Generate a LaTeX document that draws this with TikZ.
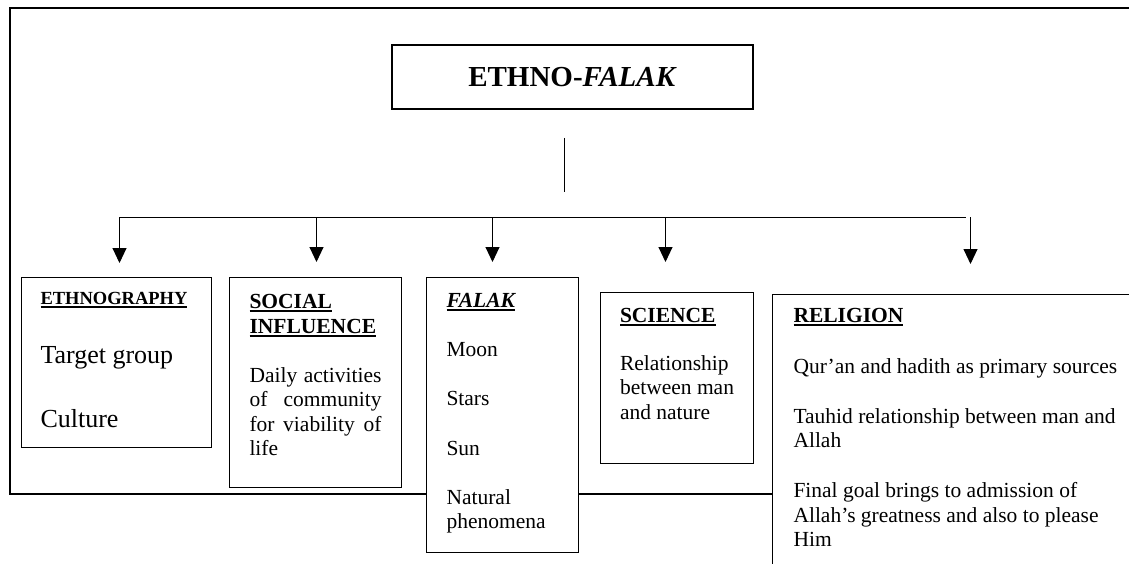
\documentclass[tikz,border=0pt]{standalone}
\usepackage{fontspec}
\setmainfont{Liberation Serif}
\usetikzlibrary{arrows.meta, positioning, calc}

\newcommand{\underhead}[1]{\setbox0\hbox{#1}\leavevmode\rlap{\vrule height -1.6pt depth 3.4pt width \wd0}\box0}
\newcommand{\headfont}{\fontsize{21.5}{25}\selectfont\bfseries}
\newcommand{\bodyfont}{\fontsize{21.5}{24.3}\selectfont}

\begin{document}
\begin{tikzpicture}[
    x=1pt, y=-1pt,
    frame/.style={line width=2.6pt},
    mainbox/.style={draw, line width=2.6pt, minimum width=361pt, minimum height=64pt, font=\fontsize{29}{32}\selectfont\bfseries},
    panel/.style={draw, line width=1pt, fill=white, anchor=north west, inner ysep=0pt, inner xsep=20pt},
    link/.style={line width=1pt},
    arrow/.style={line width=1pt, -{Triangle[width=14pt,length=15pt]}}
]
\useasboundingbox (0,0) rectangle (1129,564);
\clip (0,0) rectangle (1129,564);

% outer frame
\draw [frame] (10,8) rectangle (1160,494);

\node (ethnofalak) [mainbox] at (572.5,77) {ETHNO-\textit{FALAK}};

% the five panels
\node (ethno) [panel, inner xsep=19pt] at (21,277) {\parbox[t][170pt][t]{152pt}{\raggedright
    \vspace*{15pt}{\fontsize{18.5}{21}\selectfont\bfseries\underhead{ETHNOGRAPHY}\par}
    \vspace{31pt}{\fontsize{26}{28}\selectfont Target group\par}
    \vspace{36pt}{\fontsize{26}{28}\selectfont Culture\par}}};
\node (social) [panel, right=17pt of ethno.north east, anchor=north west] {\parbox[t][210pt][t]{132pt}{\bodyfont
    \vspace*{16.8pt}{\headfont\underhead{SOCIAL}\par\underhead{INFLUENCE}\par}
    \vspace{24.7pt}Daily activities\linebreak of community\linebreak for viability of\linebreak life\par}};
\node (falak) [panel, right=24pt of social.north east, anchor=north west] {\parbox[t][275pt][t]{112pt}{\bodyfont\raggedright
    \vspace*{15.6pt}{\headfont\itshape\underhead{FALAK}\par}
    \vspace{24.7pt}Moon\par
    \vspace{24.7pt}Stars\par
    \vspace{25.7pt}Sun\par
    \vspace{24.7pt}Natural\\phenomena\par}};
\node (science) [panel, inner xsep=19.5pt, below right=15pt and 21pt of falak.north east] {\parbox[t][171pt][t]{114pt}{\bodyfont\raggedright
    \vspace*{15.8pt}{\headfont\underhead{SCIENCE}\par}
    \vspace{23.7pt}Relationship\\between man\\and nature\par}};
\node (religion) [panel, draw=none, inner xsep=21pt, below right=2pt and 18pt of science.north east] {\parbox[t][310pt][t]{375pt}{\bodyfont\raggedright
    \vspace*{13.8pt}{\headfont\underhead{RELIGION}\par}
    \vspace{26.7pt}Qur’an and hadith as primary sources\par
    \vspace{25.7pt}Tauhid relationship between man and\\Allah\par
    \vspace{25.7pt}Final goal brings to admission of\\Allah’s greatness and also to please\\Him\par}};
\draw [link] (religion.south west) -- (religion.north west) -- (religion.north east);

% connectors
\coordinate (stemtop) at (564,138);
\coordinate (stembot) at (564,192);
\coordinate (busL) at (119,217);
\coordinate (busR) at (966,217);
\draw [link] (stemtop) -- (stembot);
\draw [link] (busL) -- (busR);
\foreach \n/\dx/\dy in {ethno/3/14, social/1/15, falak/-10/15, science/-11.5/30, religion/-10.5/30}
    \draw [arrow] ($(\n.north |- busL)+(\dx,0)$) -- ($(\n.north)+(\dx,-\dy)$);

\end{tikzpicture}
\end{document}
